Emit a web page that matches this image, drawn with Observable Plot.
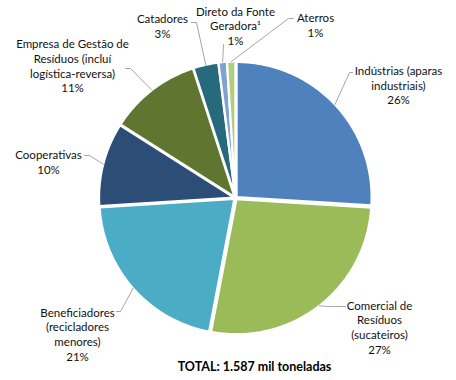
<!DOCTYPE html>
<html>
<head>
<meta charset="utf-8">
<script src="https://cdn.jsdelivr.net/npm/d3@7"></script>
<script src="https://cdn.jsdelivr.net/npm/@observablehq/plot@0.6"></script>
<style>
  html, body { margin: 0; padding: 0; background: #fff; }
  #chart { width: 456px; height: 380px; }
</style>
</head>
<body>
<div id="chart"></div>
<script>
// ---- data ----
const categories = [
  "Indústrias",
  "Comercial de Resíduos",
  "Beneficiadores",
  "Cooperativas",
  "Empresa de Gestão de Resíduos",
  "Catadores",
  "Direto da Fonte Geradora",
  "Aterros"
];
const shares = [26, 27, 21, 10, 11, 3, 1, 1];
const labelTexts = [
  "Indústrias (aparas\nindustriais)",
  "Comercial de\nResíduos\n(sucateiros)",
  "Beneficiadores\n(recicladores\nmenores)",
  "Cooperativas",
  "Empresa de Gestão de\nResíduos (incluí\nlogística-reversa)",
  "Catadores",
  "Direto da Fonte\nGeradora¹",
  "Aterros"
];
const totalLabel = "TOTAL: 1.587 mil toneladas";

// ---- style / layout (not data) ----
const colors = ["#4F81BD", "#9BBB59", "#4BACC6", "#2C4D75", "#5F7530", "#276A7C", "#7FA3D1", "#B3CD80"];
const cx = 235, cy = 197.5, R = 135, EXPLODE = 1.5;
// label block centre and leader elbow / end points, per category
const labelLayout = [
  {lx: 398, ly: 84.5, ex: 349, ey: 72, tx: 352, ty: 72},
  {lx: 379, ly: 326.5, ex: 330, ey: 306, tx: 345, ty: 306},
  {lx: 77, ly: 333.5, ex: 120, ey: 311, tx: 116, ty: 311},
  {lx: 48, ly: 161, ex: 89, ey: 155, tx: 84, ty: 155},
  {lx: 72, ly: 65, ex: 130, ey: 68, tx: 125, ty: 68},
  {lx: 162, ly: 25.5, ex: 196, ey: 22, tx: 191, ty: 22},
  {lx: 235, ly: 25, ex: 223, ey: 44, tx: 223, ty: 44},
  {lx: 315, ly: 24.5, ex: 288, ey: 18, tx: 293, ty: 18}
];

// ---- geometry from data ----
const pie = d3.pie().sort(null).value(d => d.value);
const rows = categories.map((name, i) => ({name, value: shares[i], i}));
const arcs = pie(rows);

const slicePts = [];
const leaderPts = [];
const labels = [];
arcs.forEach(a => {
  const m = (a.startAngle + a.endAngle) / 2;
  const ox = EXPLODE * Math.sin(m), oy = -EXPLODE * Math.cos(m);
  const name = a.data.name;
  slicePts.push({name, x: cx + ox, y: cy + oy});
  const steps = Math.max(2, Math.ceil((a.endAngle - a.startAngle) / (Math.PI / 360)));
  for (let k = 0; k <= steps; k++) {
    const t = a.startAngle + (a.endAngle - a.startAngle) * k / steps;
    slicePts.push({name, x: cx + ox + R * Math.sin(t), y: cy + oy - R * Math.cos(t)});
  }
  const L = labelLayout[a.data.i];
  const rr = R + EXPLODE;
  leaderPts.push({name, x: cx + rr * Math.sin(m), y: cy - rr * Math.cos(m)});
  leaderPts.push({name, x: L.ex, y: L.ey});
  leaderPts.push({name, x: L.tx, y: L.ty});
  labels.push({name, x: L.lx, y: L.ly, text: labelTexts[a.data.i] + "\n" + a.data.value + "%"});
});

const chart = Plot.plot({
  width: 456,
  height: 380,
  margin: 0,
  style: {fontFamily: "Lato, 'Open Sans', sans-serif", background: "#fff", color: "#000"},
  x: {domain: [0, 456], range: [0, 456], axis: null},
  y: {domain: [0, 380], range: [0, 380], axis: null},
  color: {domain: categories, range: colors},
  marks: [
    Plot.line(slicePts, {x: "x", y: "y", z: "name", fill: "name", stroke: "white", strokeWidth: 2.2, curve: "linear-closed", strokeLinejoin: "miter"}),
    Plot.line(leaderPts, {x: "x", y: "y", z: "name", stroke: "#a6a6a6", strokeWidth: 1, curve: "linear"}),
    Plot.text(labels, {x: "x", y: "y", text: "text", fontSize: 11.5, lineHeight: 1.28, lineAnchor: "middle", textAnchor: "middle", fill: "#111"}),
    Plot.text([totalLabel], {frameAnchor: "bottom", dx: 26, dy: -14, lineAnchor: "middle", fontSize: 12.5, fontWeight: "bold", fill: "#000"})
  ]
});
document.getElementById("chart").appendChild(chart);
</script>
</body>
</html>
